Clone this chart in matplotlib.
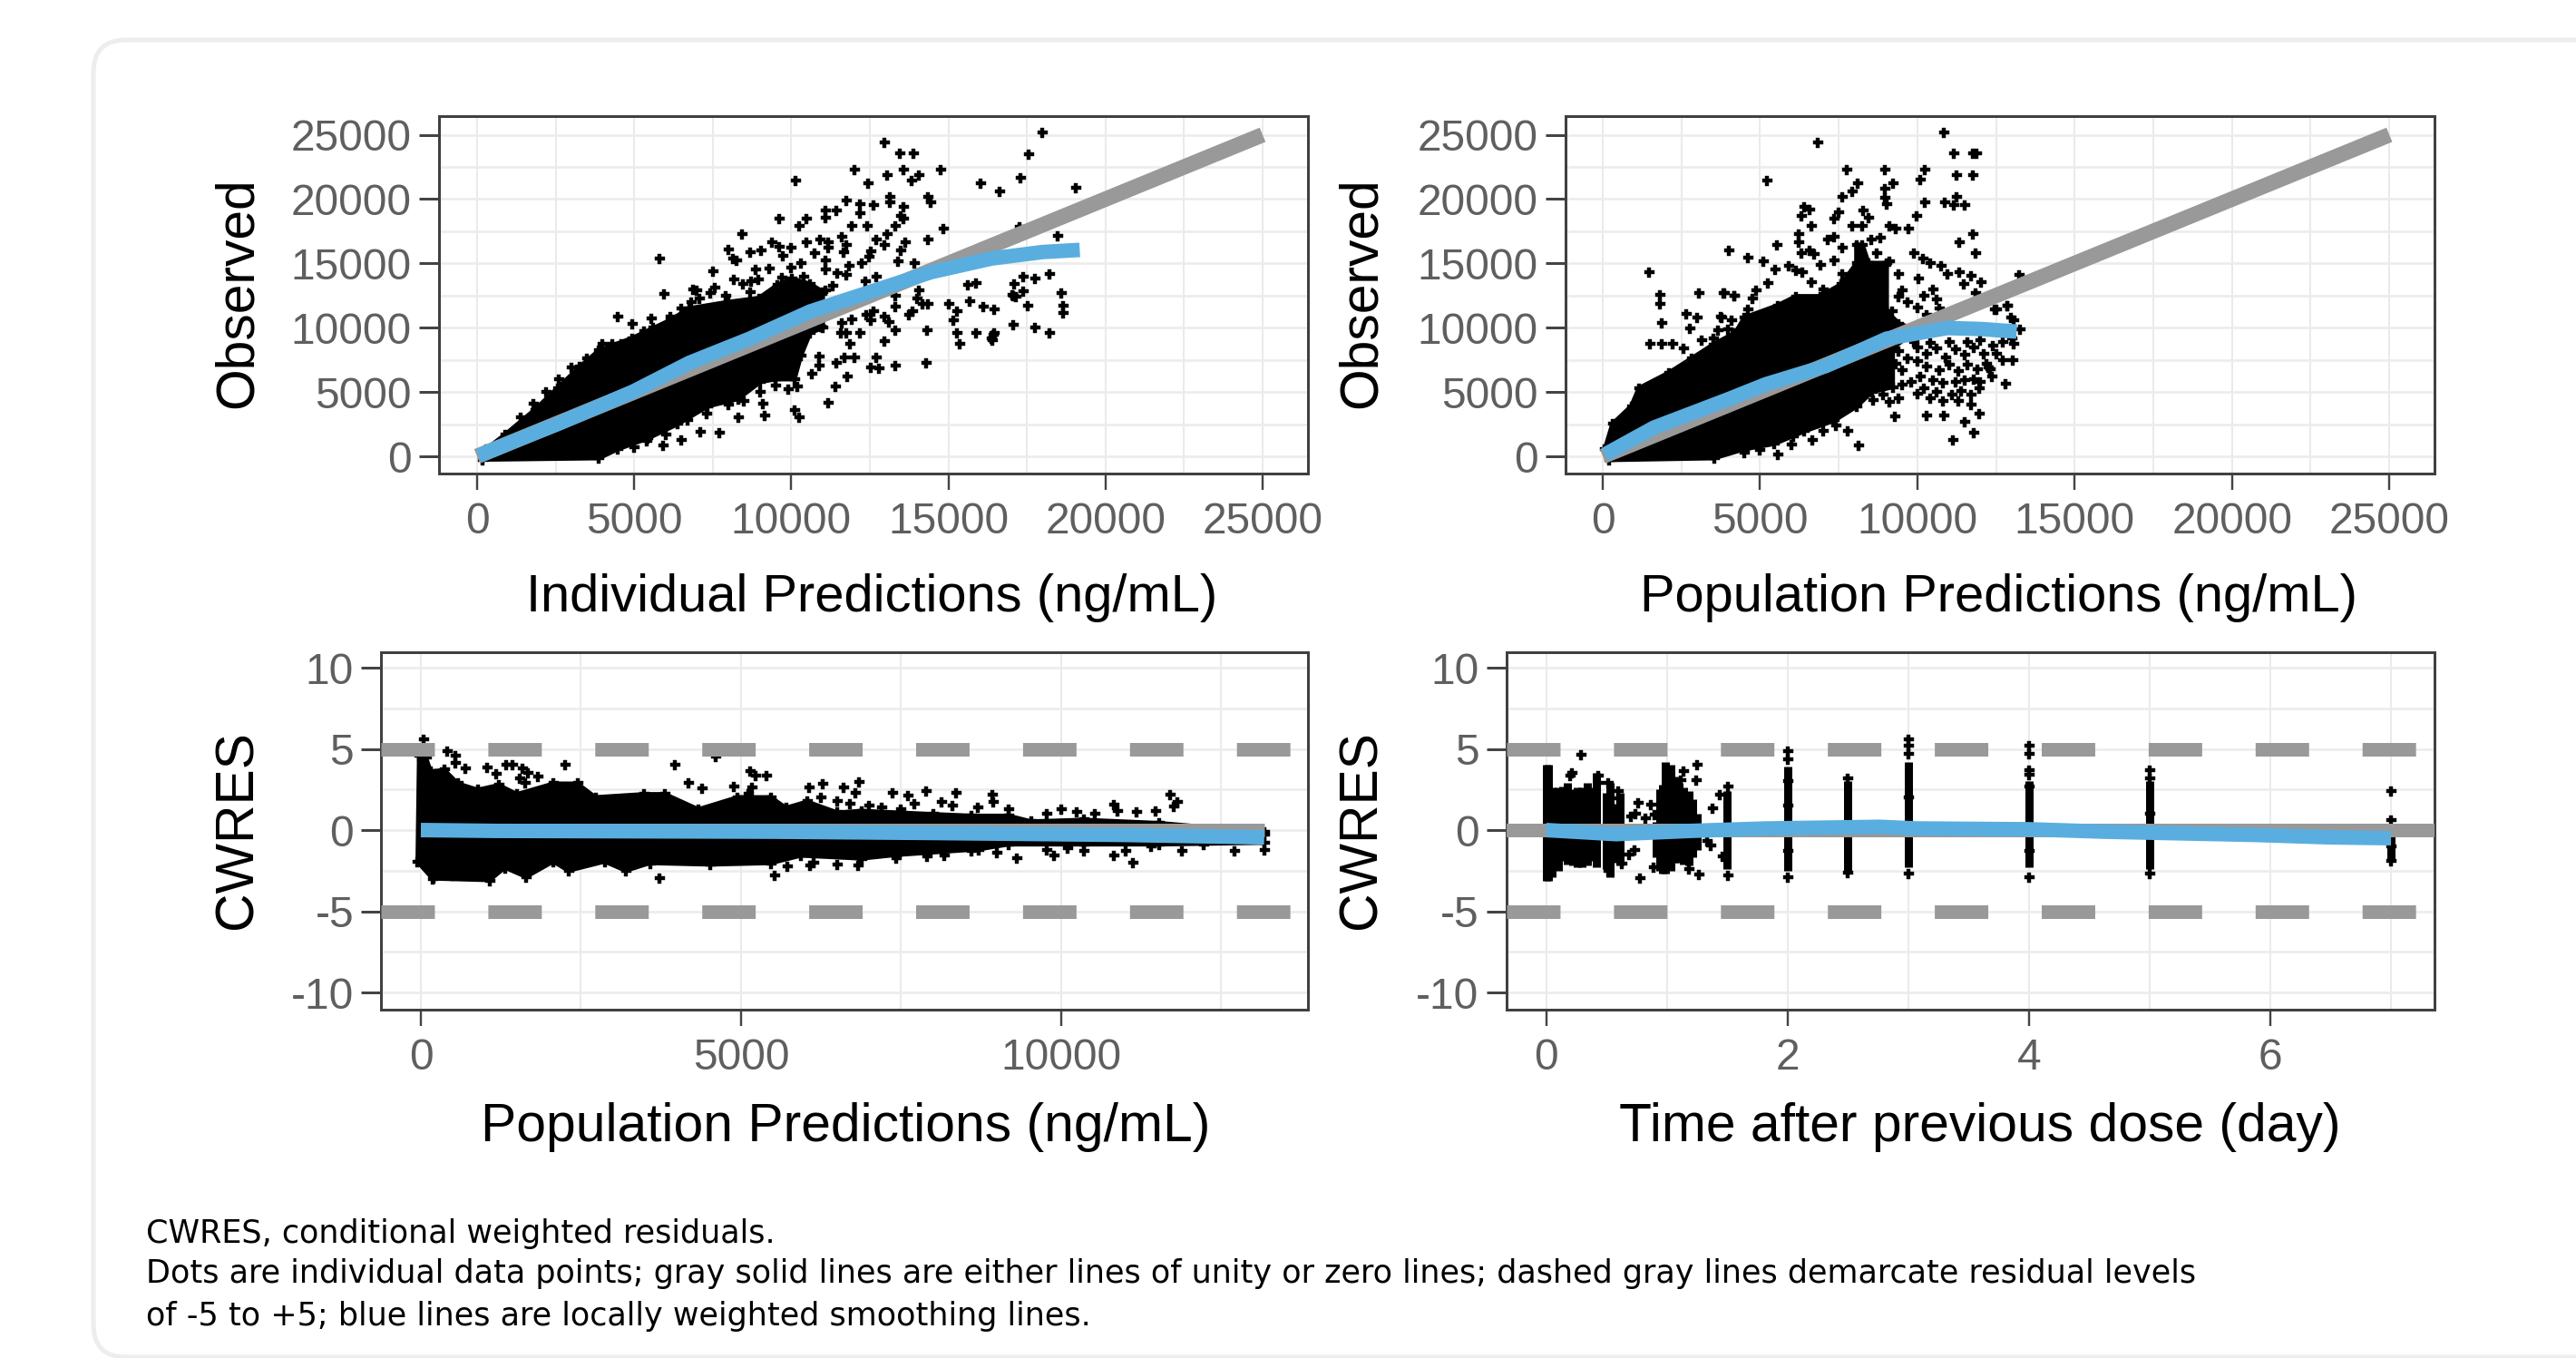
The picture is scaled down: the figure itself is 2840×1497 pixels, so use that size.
import matplotlib
matplotlib.use("Agg")
import matplotlib.pyplot as plt
from matplotlib.patches import FancyBboxPatch

plt.rcParams['font.family'] = ['Liberation Sans', 'DejaVu Sans']
plt.rcParams['axes.unicode_minus'] = False

W, H = 2840, 1497
GRAY = '#999999'
BLUE = '#59AEDF'
TICKC = '#5f5f5f'

unity = [0, 25000]
major_obs = [0, 5000, 10000, 15000, 20000, 25000]
major_cwres = [-10, -5, 0, 5, 10]
major_ppred = [0, 5000, 10000]
major_time = [0, 2, 4, 6]

# ---- panel 1: observed vs individual predictions
p1_mass_x = [170, 290, 885, 1840, 2560, 3275, 3875, 4950, 6150, 6755, 8005, 8970, 9545, 10025, 10600, 11000,
             11000, 10600, 10300, 10100, 9500, 9020, 8300, 7345, 6385, 5430, 4475, 3875, 170]
p1_mass_y = [0, 560, 1670, 3620, 5295, 6970, 8220, 9200, 10590, 11500, 12000, 12300, 13300, 13800, 13400, 12800,
             10000, 9600, 7800, 6000, 6000, 5800, 4460, 3900, 2510, 1395, 560, -140, -250]
p1_points = [(7505, 14370), (6995, 12910), (7070, 12275), (7570, 13145), (7430, 12675), (8180, 13735), (8005, 16085),
    (8440, 17260), (8150, 15380), (8245, 15215), (8700, 15850), (9035, 16040), (9370, 16675), (9620, 16320), (9720, 15615),
    (9980, 16250), (9620, 18505), (10240, 17895), (10490, 18505), (10140, 21445), (8870, 14560), (9295, 14580), (8950, 13735),
    (8725, 13615), (8465, 13380), (10490, 16675), (10750, 15800), (10910, 16860), (11180, 16675), (11180, 16200),
    (11595, 17070), (11755, 16440), (11660, 15850), (11085, 19140), (11085, 18555), (11420, 19140), (11755, 19915),
    (12190, 19610), (12190, 18905), (11930, 17895), (12410, 17895), (12625, 19565), (12020, 22270), (12450, 21260),
    (13045, 21845), (12960, 24385), (13460, 23540), (13895, 23540), (13555, 22270), (13815, 21445), (14065, 21845),
    (14750, 22270), (13125, 20150), (13125, 19730), (13555, 19375), (13490, 18720), (13565, 18485), (13295, 17895),
    (14335, 20150), (14420, 19730), (13045, 17260), (12700, 16860), (12960, 16440), (13635, 16675), (13470, 16040),
    (12525, 15970), (12480, 15500), (13395, 15190), (13920, 15025), (14835, 17685), (14335, 16860), (16030, 21235),
    (16625, 20620), (12700, 13970), (12365, 13615), (12240, 15025), (11835, 14790), (11755, 14085), (11470, 14275),
    (11085, 15260), (11085, 14560), (10315, 15025), (9980, 14675), (11325, 13265), (11085, 12910), (13295, 12510),
    (13295, 11665), (14065, 12910), (13990, 12275), (14160, 11855), (14335, 11855), (14999, 11855), (15260, 11265),
    (15170, 10605), (15605, 13310), (15865, 13500), (15680, 12090), (16115, 11665), (16450, 11455), (17050, 12510),
    (17050, 10205), (15260, 9570), (15345, 8750), (15865, 9570), (16375, 9150), (16450, 9570), (14325, 9785), (13295, 9785),
    (12960, 8960), (12190, 9570), (11855, 8750), (12700, 7670), (13295, 7035), (14290, 7270), (12525, 6915), (12795, 6845),
    (11995, 7670), (11680, 7670), (11420, 7270), (11775, 6210), (13730, 11030), (13855, 11265), (12960, 10840),
    (13105, 10440), (12625, 11265), (12385, 11030), (12525, 10605), (11930, 10680), (11595, 10375), (11565, 9620),
    (11755, 9570), (10940, 10090), (10890, 7740), (10650, 6445), (10890, 7035),
    (17990, 25170), (17560, 23520), (17295, 21650), (19065, 20850), (17270, 17840), (18465, 17140), (5790, 15410),
    (18225, 14210), (17390, 13935), (17750, 13795), (17100, 13380), (17030, 12540), (17150, 12400), (17390, 12820),
    (18585, 12680), (17510, 11705), (18635, 11705), (18635, 11150), (17750, 10030), (18225, 9560), (16430, 9475), (16385, 9060),
    (11170, 4180), (11410, 5435), (10095, 3625), (10260, 3065), (9140, 3205), (8300, 3010), (7700, 1810), (7105, 1895),
    (6505, 1255), (5955, 12625), (4475, 10870), (4950, 10310), (5550, 10730), (6150, 10870), (6865, 12960), (5910, 835),
    (3995, 8780), (4300, 8780), (4600, 8780), (4950, 8500), (3500, 7600), (3000, 6900), (2600, 6000), (2200, 5000),
    (1800, 4100), (1400, 3000), (5300, 9700), (5600, 10000), (6000, 10100), (6500, 11500), (6800, 12000), (5000, 700),
    (5400, 1200), (6000, 1700), (6700, 2800), (7300, 3300), (8000, 4000), (8500, 4300), (9000, 5000), (9500, 5500),
    (8700, 12800), (7900, 12500), (9700, 13900), (10400, 14000), (9100, 4100), (9900, 5200), (10200, 5400)]
p1_blue_x = [50, 1250, 2560, 4950, 6755, 8679, 10603, 12527, 14451, 16375, 18000, 19180]
p1_blue_y = [50, 1250, 2510, 5015, 7269, 9150, 11265, 12794, 14322, 15380, 15885, 16050]

# ---- panel 2: observed vs population predictions
p2_mass_x = [70, 310, 910, 1150, 2105, 2820, 3517, 4219, 4507, 5564, 6141, 6910, 7582, 8063, 8063, 8255, 8447, 9024, 9024, 9408, 9990,
             9216, 9216, 8555, 8080, 7360, 6405, 5450, 4495, 3540, 190]
p2_mass_y = [560, 2510, 3900, 5295, 6500, 7600, 8700, 9620, 10795, 11735, 12441, 12441, 13381, 15000, 16438, 16438, 15027, 15027, 11265, 10326, 9800,
             8444, 5390, 5015, 3900, 2790, 1950, 975, 560, -140, -280]
p2_points = [(10830, 25207), (6825, 24385), (11167, 23540), (11763, 23540), (11878, 23540), (7755, 22270), (8957, 22270), (10244, 22270),
    (10100, 21490), (5209, 21445), (8092, 21257), (11254, 21845), (11763, 21845), (9216, 21257), (8957, 20787), (7938, 20623),
    (7602, 20200), (8957, 20082), (9024, 19612), (10244, 19776), (10869, 19776), (11254, 20200), (11167, 19565), (11503, 19565),
    (6400, 19377), (6573, 19188), (6314, 18671), (7486, 18953), (7342, 18507), (8274, 19141), (8447, 18554), (8255, 17895),
    (7938, 17895), (6641, 17895), (9985, 18671), (9120, 17895), (9312, 17684), (9716, 17684), (6218, 17261), (6218, 16673),
    (7150, 16861), (7342, 17096), (5545, 16438), (4008, 16038), (11763, 17261), (11330, 16673), (11859, 15803), (8524, 16861),
    (8832, 17026), (7602, 16250), (6573, 16038), (6718, 15732), (6314, 15803), (6910, 14863), (7342, 15215), (4623, 15427),
    (5113, 15192), (5468, 14557), (5901, 14792), (6141, 14440), (6333, 14322), (13223, 14134), (9889, 15803), (10177, 15380),
    (10417, 15027), (10754, 14792), (9120, 15145), (9408, 14204), (10033, 13852), (10946, 14204), (11330, 14322), (11715, 14040),
    (12022, 13546), (11475, 13381), (9504, 12911), (3844, 12723), (4190, 12488), (4872, 12911), (4767, 12277), (5247, 13499),
    (6641, 13546), (11859, 12723), (12464, 11454), (12868, 11736), (12964, 10796), (9197, 11265), (4603, 11454), (3758, 10842),
    (4104, 10560), (3662, 9784), (3517, 9150), (13252, 9855), (13060, 8727), (13041, 7504), (12724, 7504), (12368, 6211),
    (12791, 5623), (12243, 6916), (10200, 12500), (10600, 12200), (10000, 11600), (10300, 11000), (10700, 11500), (9700, 12000),
    (10500, 13000), (9400, 12400), (7600, 14200), (8700, 15800), (7000, 13000), (1460, 14350), (3060, 12680), (1815, 12540),
    (1815, 11845), (3850, 12680), (4180, 12485), (2655, 11090), (2990, 10815), (1865, 10395), (3775, 10815), (1505, 8780),
    (1865, 8780), (2220, 8780), (2580, 8360), (2770, 9980), (3130, 9060), (3970, 9895), (12500, 11425), (12860, 11705), (13050, 10590),
    (10000, 8500), (10300, 8000), (10600, 8400), (10900, 7700), (11200, 8300), (11500, 7900), (11800, 8500), (12100, 8000), (10000, 7400),
    (10300, 7000), (10700, 6700), (11000, 7100), (11300, 6600), (11600, 7100), (11900, 6800), (12200, 7200), (10100, 6200), (10500, 5900),
    (10800, 5700), (11200, 5800), (11500, 5900), (11800, 6000), (10200, 5300), (10600, 5000), (11100, 4800), (11400, 5100), (11700, 4800),
    (10400, 4500), (10000, 4900), (10800, 4300), (11300, 4300), (12000, 5800), (12400, 8600), (12700, 8900), (13000, 9200), (11000, 8900),
    (11600, 8900), (12000, 9000), (12500, 8000), (12300, 6800), (9400, 8200), (9700, 7600), (9500, 6700), (9800, 5800), (9500, 5600),
    (9300, 7200), (9900, 8900), (10400, 8800), (9400, 4500), (9100, 4200), (8900, 4800), (8600, 4400),
    (11710, 4040), (11950, 3345), (11495, 2650), (11780, 1810), (11140, 1255), (10830, 3205), (10280, 3205), (9275, 3120), (8125, 835),
    (7770, 1950), (6645, 1255), (5570, 140), (4495, 280), (6045, 1530), (11950, 5295), (7400, 2400), (7000, 2000), (6000, 900), (5000, 500)]
p2_blue_x = [70, 1625, 2820, 4015, 5180, 7102, 9024, 10946, 12000, 13156]
p2_blue_y = [140, 2230, 3345, 4460, 5600, 7034, 9150, 9973, 9900, 9700]

# ---- panel 3: CWRES vs population predictions
p3_up_x = [-33, 85, 156, 368, 581, 888, 1218, 1501, 2068, 2445, 2728, 3484, 3814, 4333, 4947, 5466, 5702, 6032, 6504, 6882,
           8000, 8595, 9180, 9530, 10355, 11530, 13170]
p3_up_y = [4.56, 4.46, 3.63, 3.72, 2.88, 2.5, 2.79, 2.23, 2.88, 2.88, 2.04, 2.23, 2.23, 1.3, 2.04, 2.04, 1.39, 1.77, 1.1, 1.2,
           1.0, 0.9, 0.9, 0.55, 0.65, 0.45, -0.1]
p3_lo_x = [-56, 180, 1076, 1312, 1643, 2068, 2304, 2870, 3200, 3578, 4522, 5466, 5938, 6882, 7420, 8710, 9180, 10355, 11530, 13170]
p3_lo_y = [-1.96, -3.0, -3.1, -2.33, -2.9, -1.96, -2.52, -1.96, -2.52, -2.05, -2.14, -2.05, -1.59, -1.77, -1.55, -1.2, -0.9, -0.9, -0.9, -0.8]
p3_points = [(38, 5.58), (406, 4.84), (534, 4.61), (534, 4.15), (699, 3.78), (1039, 3.85), (1171, 3.48), (1336, 4.04), (1430, 4.04),
    (1586, 3.81), (1666, 3.53), (1832, 3.31), (1548, 3.16), (1633, 2.88), (2256, 4.0), (3965, 4.0), (4602, 4.5), (5136, 3.66), (5230, 3.35),
    (5395, 3.35), (4182, 2.88), (4390, 2.55), (4890, 2.7), (5173, 2.6), (5112, 2.23), (6056, 2.64), (6278, 2.85), (6599, 2.6), (6844, 2.98),
    (6778, 2.32), (3720, -2.95), (5522, -2.8), (6070, -2.15), (5726, -2.24), (6504, -2.14), (500, -2.8), (203, -2.98),
    (6245, 2.0), (6500, 1.8), (6700, 1.6), (7000, 1.5), (7200, 1.4), (7890, 2.4), (8360, 2.3), (8920, 2.2), (7360, 2.3), (7600, 2.1),
    (8125, 1.75), (8945, 1.75), (9180, 1.3), (9770, 1.0), (10000, 1.3), (10240, 1.1), (10825, 1.55), (10885, 1.2), (11175, 1.1),
    (11705, 2.2), (11820, 1.75), (11760, 1.45), (11470, 1.2), (10530, 1.0), (7700, 1.6), (8300, 1.5), (8700, 1.4), (7500, 1.3),
    (11120, -2.0), (9300, -1.75), (8180, -1.55), (12700, -1.3), (13170, -1.2), (13170, -0.3), (12230, -0.9), (11880, -1.3), (10355, -1.3),
    (9770, -1.2), (9885, -1.55), (10825, -1.55), (7420, -1.75), (6830, -2.2), (6130, -2.0), (8595, -1.3), (7900, -1.6), (9000, -1.4),
    (10100, -1.1), (11000, -1.3), (11400, -1.0)]
p3_zero_x = [0, 13170]
p3_blue_x = [0, 1150, 5500, 8000, 11000, 13170]
p3_blue_y = [0.0, -0.05, -0.1, -0.18, -0.3, -0.45]

# ---- panel 4: CWRES vs time after previous dose
p4_column_x = [0.0, 0.02, 0.05, 0.1, 0.14, 0.18, 0.22, 0.26, 0.3, 0.34, 0.37, 0.42, 0.5, 0.53, 0.58, 0.61,
               0.91, 0.94, 0.965, 0.99, 1.03, 1.065, 1.1, 1.14, 1.18, 1.215, 1.25,
               1.5, 2.0, 2.5, 3.0, 4.0, 5.0, 7.0]
p4_column_low = [-3.1, -3.1, -2.9, -2.5, -1.9, -2.1, -2.2, -2.3, -2.3, -2.2, -1.9, -2.3, -2.4, -2.9, -2.0, -2.2,
                 -1.7, -2.5, -2.7, -2.7, -2.5, -2.0, -2.0, -2.1, -2.2, -1.7, -1.2,
                 -2.4, -2.5, -2.5, -2.3, -2.3, -2.4, -1.9]
p4_column_high = [4.0, 4.0, 2.6, 2.6, 2.7, 2.9, 2.5, 2.6, 2.6, 2.9, 2.6, 3.5, 2.3, 2.9, 1.6, 2.3,
                  0.5, 2.5, 2.8, 4.2, 4.0, 3.3, 2.9, 2.6, 2.4, 1.9, 1.0,
                  2.4, 3.9, 3.0, 4.2, 3.0, 3.0, 0.4]
p4_points = [(0.29, 4.65), (0.215, 3.53), (0.2, 3.35), (0.43, 3.35), (0.43, 2.88), (0.515, 2.88), (0.6, 2.4), (0.6, 1.95), (0.76, 1.67),
    (0.74, 1.02), (0.7, 0.83), (0.865, 1.54), (0.82, 0.74), (0.9, 0.93), (1.14, 3.66), (1.25, 4.0), (1.115, 3.07), (1.24, 3.07), (1.38, 1.36),
    (1.44, 2.2), (1.51, 2.7), (1.465, -1.6), (1.51, -2.8), (1.365, -0.94), (1.33, -0.66), (0.73, -1.2), (0.69, -1.5), (0.63, -2.05), (0.515, -2.5),
    (0.78, -2.95), (0.89, -2.3), (1.18, -2.42), (1.265, -2.76), (2.0, 4.87), (2.0, 4.37), (2.0, -2.9), (2.0, 3.0), (2.0, 1.5), (2.0, -1.3),
    (2.5, 3.2), (2.5, -2.6), (3.0, 5.6), (3.0, 5.2), (3.0, 4.7), (3.0, 2.0), (3.0, -2.7), (4.0, 5.2), (4.0, 4.7), (4.0, 3.7), (4.0, 3.4),
    (4.0, 2.7), (4.0, -1.3), (4.0, -2.9), (5.0, 3.7), (5.0, 3.2), (5.0, 1.0), (5.0, -2.7), (7.0, 2.4), (7.0, 0.6), (7.0, -1.0), (7.0, -1.9)]
p4_blue_x = [0, 0.58, 1.2, 1.83, 2.76, 3.07, 4.0, 4.63, 5.25, 5.88, 6.5, 7.0]
p4_blue_y = [0.0, -0.25, -0.05, 0.1, 0.2, 0.1, 0.05, -0.1, -0.2, -0.3, -0.45, -0.5]

residual_levels = [5, -5]
caption = ["CWRES, conditional weighted residuals.",
           "Dots are individual data points; gray solid lines are either lines of unity or zero lines; dashed gray lines demarcate residual levels",
           "of -5 to +5; blue lines are locally weighted smoothing lines."]

PX = 0.72  # points per pixel at dpi 100
fig = plt.figure(figsize=(W / 100, H / 100), dpi=100, facecolor='white')


def panel(l, r, t, b, xlim, ylim, xt, yt, xminor, yminor):
    ax = fig.add_axes([l / W, 1 - b / H, (r - l) / W, (b - t) / H])
    ax.set_xlim(xlim)
    ax.set_ylim(ylim)
    ax.set_xticks(xt)
    ax.set_yticks(yt)
    ax.set_xticks(xminor, minor=True)
    ax.set_yticks(yminor, minor=True)
    ax.set_axisbelow(True)
    ax.grid(True, axis='y', which='both', color='#ECECEC', lw=2.6 * PX)
    ax.grid(True, axis='x', which='both', color='#E6E6E6', lw=1.6 * PX)
    ax.tick_params(which='minor', length=0)
    ax.tick_params(axis='y', which='major', length=22 * PX, width=3 * PX, color='#444444', labelsize=34.5,
                   labelcolor=TICKC, pad=8 * PX)
    ax.tick_params(axis='x', which='major', length=18 * PX, width=2.4 * PX, color='#444444', labelsize=34.5,
                   labelcolor=TICKC, pad=13 * PX)
    for s in ax.spines.values():
        s.set_color('#404040')
        s.set_linewidth(3 * PX)
    return ax


def dots(ax, xs, ys):
    ax.plot(xs, ys, ls='none', marker='P', ms=11 * PX, mew=0.4 * PX, color='black', zorder=3)


def dot_pairs(ax, pts):
    dots(ax, [p[0] for p in pts], [p[1] for p in pts])


minor_obs = [2500, 7500, 12500, 17500, 22500]
minor_cw = [-7.5, -2.5, 2.5, 7.5]

a1 = panel(484, 1442, 128, 522, (-1212, 26443), (-1340, 26453), major_obs, major_obs, minor_obs, minor_obs)
a2 = panel(1726, 2684, 128, 522, (-1182, 26435), (-1340, 26453), major_obs, major_obs, minor_obs, minor_obs)
a3 = panel(420, 1442, 718.5, 1113, (-623, 13853), (-11.06, 10.98), major_ppred, major_cwres, [2500, 7500, 12500], minor_cw)
a4 = panel(1660.6, 2684, 718.5, 1113, (-0.33, 7.36), (-11.06, 10.98), major_time, major_cwres, [1, 3, 5, 7], minor_cw)

for ax, mx, my, pts, bx, by in ((a1, p1_mass_x, p1_mass_y, p1_points, p1_blue_x, p1_blue_y),
                                (a2, p2_mass_x, p2_mass_y, p2_points, p2_blue_x, p2_blue_y)):
    ax.fill(mx, my, color='black', lw=5 * PX, zorder=3)
    dots(ax, mx, my)
    dot_pairs(ax, pts)
    ax.plot(unity, unity, color=GRAY, lw=17 * PX, solid_capstyle='butt', zorder=4)
    ax.plot(bx, by, color=BLUE, lw=16 * PX, solid_capstyle='butt', zorder=5)

a3.fill(p3_up_x + p3_lo_x[::-1], p3_up_y + p3_lo_y[::-1], color='black', lw=4 * PX, zorder=3)
dots(a3, p3_up_x, p3_up_y)
dots(a3, p3_lo_x, p3_lo_y)
dot_pairs(a3, p3_points)
a3.plot(p3_zero_x, [0, 0], color=GRAY, lw=15 * PX, solid_capstyle='butt', zorder=4)
a3.plot(p3_blue_x, p3_blue_y, color=BLUE, lw=16 * PX, solid_capstyle='butt', zorder=5)

a4.vlines(p4_column_x, p4_column_low, p4_column_high, color='black', lw=9 * PX, zorder=3)
dot_pairs(a4, p4_points)
a4.axhline(0, color=GRAY, lw=15 * PX, zorder=4)
a4.plot(p4_blue_x, p4_blue_y, color=BLUE, lw=16 * PX, solid_capstyle='butt', zorder=5)

for ax in (a3, a4):
    for lev in residual_levels:
        ax.axhline(lev, color=GRAY, lw=15 * PX, linestyle=(0, (3.93, 3.93)), dash_capstyle='butt', zorder=4)

# overlay for frame and free text, in pixel coordinates
ov = fig.add_axes([0, 0, 1, 1], zorder=-1)
ov.set_xlim(0, W)
ov.set_ylim(H, 0)
ov.axis('off')
ov.add_patch(FancyBboxPatch((103, 44), 2800, 1452, boxstyle='round,pad=0,rounding_size=36', fc='white', ec='#EDEDED', lw=5 * PX))

ov2 = fig.add_axes([0, 0, 1, 1], zorder=10)
ov2.set_xlim(0, W)
ov2.set_ylim(H, 0)
ov2.axis('off')
ov2.patch.set_alpha(0)


def label(x, y, s, size, rot=0):
    ov2.text(x, y, s, fontsize=size, rotation=rot, ha='center', va='center', color='black')


label(961, 659, 'Individual Predictions (ng/mL)', 41.7)
label(2203, 659, 'Population Predictions (ng/mL)', 41.7)
label(932, 1243, 'Population Predictions (ng/mL)', 42.3)
label(2183, 1243, 'Time after previous dose (day)', 42.3)
label(262, 323, 'Observed', 42.3, 90)
label(1501, 323, 'Observed', 42.3, 90)
label(262, 915, 'CWRES', 42.3, 90)
label(1501, 915, 'CWRES', 42.3, 90)

for y, line in zip((1360, 1404, 1451), caption):
    ov2.text(161, y, line, fontsize=25.2, family='DejaVu Sans', ha='left', va='center', color='black')

fig.savefig('out.png', dpi=100, facecolor='white')
